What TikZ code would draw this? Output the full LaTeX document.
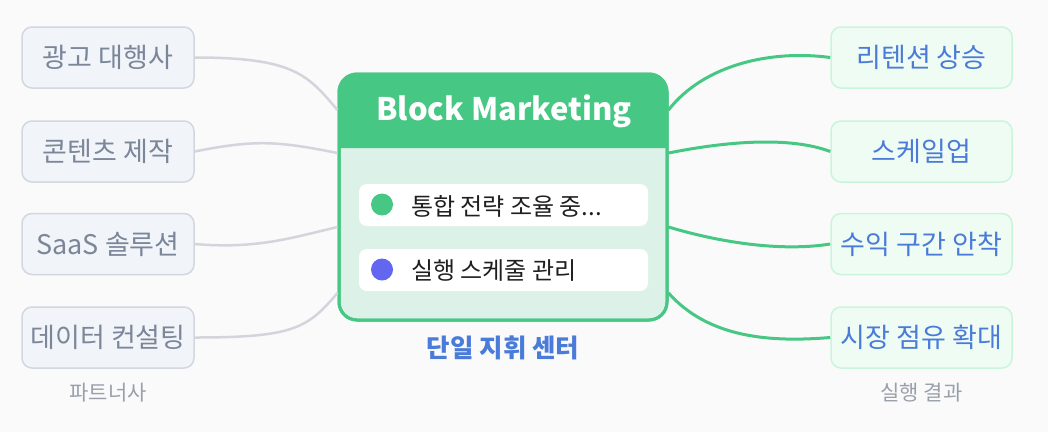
\documentclass[tikz,border=0pt]{standalone}
\usepackage{fontspec}
\setmainfont{Noto Sans CJK KR}
\definecolor{bgc}{HTML}{FAFAFB}
\definecolor{lfill}{HTML}{F1F4F9}
\definecolor{ldraw}{HTML}{D2D7E0}
\definecolor{ltext}{HTML}{7B8699}
\definecolor{gconnc}{HTML}{D4D4DC}
\definecolor{gr}{HTML}{46C783}
\definecolor{body}{HTML}{DCF2E9}
\definecolor{rfill}{HTML}{EFFCF4}
\definecolor{rdraw}{HTML}{C9F5DA}
\definecolor{btext}{HTML}{4A7BD8}
\definecolor{captc}{HTML}{9AA0AB}
\definecolor{purp}{HTML}{6366F1}
\tikzset{
  lbox/.style={draw=ldraw, fill=lfill, line width=1.5pt, rounded corners=10pt, minimum width=172pt, minimum height=61pt, inner sep=0pt, text=ltext, font=\fontsize{27}{31}\selectfont},
  rbox/.style={draw=rdraw, fill=rfill, line width=1.5pt, rounded corners=10pt, minimum width=181pt, minimum height=61pt, inner sep=0pt, text=btext, font=\fontsize{27}{31}\selectfont},
  lconn/.style={draw=gconnc, line width=2.5pt},
  rconn/.style={draw=gr, line width=3pt},
  item/.style={fill=white, rounded corners=8pt, minimum width=289pt, minimum height=42pt, inner sep=0pt},
  itemtext/.style={anchor=west, inner sep=0pt, text=black!88, font=\fontsize{24}{28}\selectfont},
  capt/.style={text=captc, font=\fontsize{21}{25}\selectfont},
}
\begin{document}
\begin{tikzpicture}[x=1pt,y=-1pt]
\fill[bgc] (0,0) rectangle (1048,432);
\useasboundingbox (0,0) rectangle (1048,432);
% left boxes
\node[lbox] (l1) at (108,57.5) {광고 대행사};
\node[lbox] (l2) at (108,151.5) {콘텐츠 제작};
\node[lbox] (l3) at (108,244) {SaaS 솔루션};
\node[lbox] (l4) at (108,337.5) {데이터 컨설팅};
\node[capt] (lcap) at (108,393) {파트너사};
% right boxes
\node[rbox] (r1) at (921.5,57.5) {리텐션 상승};
\node[rbox] (r2) at (921.5,151.5) {스케일업};
\node[rbox] (r3) at (921.5,244) {수익 구간 안착};
\node[rbox] (r4) at (921.5,337.5) {시장 점유 확대};
\node[capt] (rcap) at (921.5,393) {실행 결과};
% hub
\node[draw=gr, fill=body, line width=3pt, rounded corners=18pt, minimum width=328pt, minimum height=246pt, inner sep=0pt] (hub) at (503,197) {};
\fill[gr] (339,148) [rounded corners=18pt] -- (339,74) -- (667,74) [sharp corners] -- (667,148) -- cycle;
\draw[gr, line width=3pt, rounded corners=18pt] (339,74) rectangle (667,320);
\node[text=white, font=\bfseries\fontsize{31}{36}\selectfont] (title) at (504,111) {Block Marketing};
\node[item] (i1) at (503.5,205) {};
\node[item] (i2) at (503.5,270) {};
\fill[gr] (382,204.5) circle (11pt);
\fill[purp] (382,269.5) circle (11pt);
\node[itemtext] (t1) at (411,206) {통합 전략 조율 중...};
\node[itemtext] (t2) at (411,271) {실행 스케줄 관리};
\node[text=btext, font=\bfseries\fontsize{25.5}{30}\selectfont] (sub) at (503,348) {단일 지휘 센터};
% connectors left
\draw[lconn] (l1.east) .. controls +(100,0) and +(-30,-35) .. ([yshift=87pt]hub.west);
\draw[lconn] (l2.east) .. controls +(60,-12) and +(-60,-12) .. ([yshift=44pt]hub.west);
\draw[lconn] (l3.east) .. controls +(60,5) and +(-50,12) .. ([yshift=-30pt]hub.west);
\draw[lconn] (l4.east) .. controls +(100,0) and +(-30,35) .. ([yshift=-96pt]hub.west);
% connectors right
\draw[rconn] ([yshift=87pt]hub.east) .. controls +(35,-45) and +(-60,-8) .. (r1.west);
\draw[rconn] ([yshift=44pt]hub.east) .. controls +(60,-12) and +(-40,-15) .. (r2.west);
\draw[rconn] ([yshift=-30pt]hub.east) .. controls +(50,15) and +(-50,8) .. (r3.west);
\draw[rconn] ([yshift=-96pt]hub.east) .. controls +(40,45) and +(-60,5) .. (r4.west);
\end{tikzpicture}
\end{document}
